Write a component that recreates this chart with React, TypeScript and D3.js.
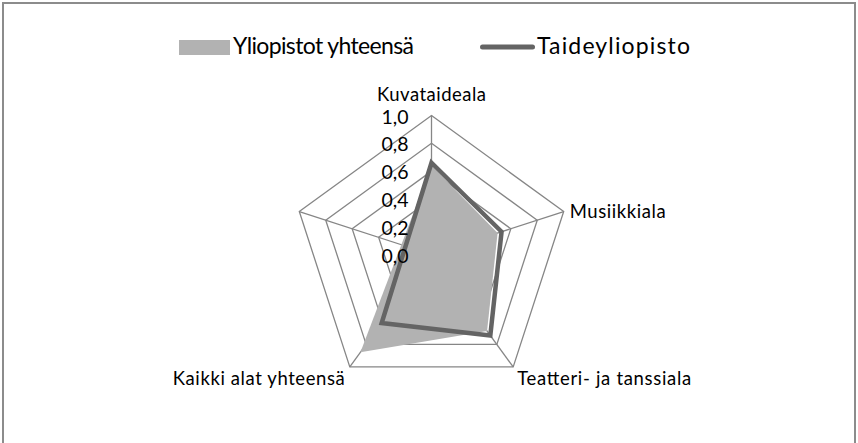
import React from "react";
import * as d3 from "d3";

const categories = ["Kuvataideala", "Musiikkiala", "Teatteri- ja tanssiala", "Kaikki alat yhteensä", ""];
const yliopistot: (number | null)[] = [0.64, 0.5, 0.68, 0.87, null];
const taideyliopisto: (number | null)[] = [0.66, 0.53, 0.72, 0.61, null];
const ticks = [0, 0.2, 0.4, 0.6, 0.8, 1.0];
const tickLabels = ["0,0", "0,2", "0,4", "0,6", "0,8", "1,0"];
const seriesNames = ["Yliopistot yhteensä", "Taideyliopisto"];

const W = 858, H = 443;
const cx = 431.5, cy = 254.5, R = 139;
const FONT = "Lato, sans-serif";

export default function App() {
  const r = d3.scaleLinear().domain([0, 1]).range([0, R]);
  const n = categories.length;
  const ang = (i: number) => (i * 2 * Math.PI) / n;
  const pt = (i: number, v: number): [number, number] => [
    cx + r(v) * Math.sin(ang(i)),
    cy - r(v) * Math.cos(ang(i)),
  ];
  const poly = (vals: (number | null)[]) => {
    const pts = vals
      .map((v, i) => (v == null ? null : pt(i, v)))
      .filter((p): p is [number, number] => p != null);
    return d3.line().curve(d3.curveLinearClosed)(pts) || "";
  };
  const grid = ticks.slice(1).map((t) => d3.line().curve(d3.curveLinearClosed)(categories.map((_, i) => pt(i, t))) || "");
  const gridColor = "#868686";

  const labelPos = [
    { dx: 0, dy: -15, anchor: "middle", len: 109 },
    { dx: 6, dy: 6, anchor: "start", len: 96 },
    { dx: 4, dy: 18, anchor: "start", len: 174 },
    { dx: -5, dy: 18, anchor: "end", len: 172 },
    { dx: 0, dy: 0, anchor: "end", len: 0 },
  ];

  return (
    <svg width={W} height={H} style={{ position: "absolute", left: 0, top: 0 }}>
      <rect x={0} y={0} width={W} height={H} fill="#fff" />
      <rect x={3} y={3} width={852} height={460} fill="#fff" stroke="#8c8c8c" strokeWidth={2} />
      {/* legend */}
      <rect x={179} y={40} width={51} height={15} fill="#b2b2b2" />
      <text x={233} y={54} fontFamily={FONT} fontSize={23} fill="#000" textLength={181} lengthAdjust="spacing">{seriesNames[0]}</text>
      <line x1={482.5} y1={47} x2={532.5} y2={47} stroke="#646464" strokeWidth={5} strokeLinecap="round" />
      <text x={537} y={54} fontFamily={FONT} fontSize={23} fill="#000" textLength={153} lengthAdjust="spacing">{seriesNames[1]}</text>

      {/* grid */}
      {grid.map((d, i) => (
        <path key={i} d={d} fill="none" stroke={gridColor} strokeWidth={1.3} />
      ))}
      {categories.map((_, i) => {
        const [x, y] = pt(i, 1);
        return <line key={i} x1={cx} y1={cy} x2={x} y2={y} stroke={gridColor} strokeWidth={1.3} />;
      })}

      {/* series */}
      <path d={poly(yliopistot)} fill="#b2b2b2" stroke="none" />
      <path d={poly(taideyliopisto)} fill="none" stroke="#646464" strokeWidth={4.5} strokeLinejoin="miter" />

      {/* tick labels */}
      {ticks.map((t, i) => {
        const [, y] = pt(0, t);
        return (
          <text key={i} x={408.5} y={y + 8} textAnchor="end" fontFamily={FONT} fontSize={19.5} fill="#000">
            {tickLabels[i]}
          </text>
        );
      })}

      {/* category labels */}
      {categories.map((c, i) => {
        if (!c) return null;
        const [x, y] = pt(i, 1);
        const p = labelPos[i];
        return (
          <text key={i} x={x + p.dx} y={y + p.dy} textAnchor={p.anchor as any} fontFamily={FONT} fontSize={18.5} fill="#000" textLength={p.len} lengthAdjust="spacing">
            {c}
          </text>
        );
      })}
    </svg>
  );
}
